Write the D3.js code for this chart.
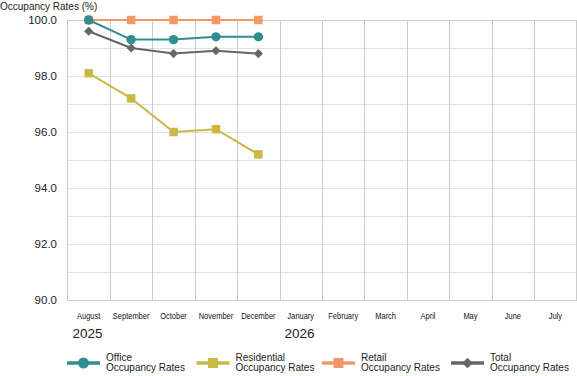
<!DOCTYPE html>
<html>
<head>
<meta charset="utf-8">
<script src="https://cdn.jsdelivr.net/npm/d3@7"></script>
<style>
  body { margin: 0; background: #fff; }
  svg { font-family: "Liberation Sans", Arial, sans-serif; }
</style>
</head>
<body>
<script>
let months = ["August", "September", "October", "November", "December", "January",
  "February", "March", "April", "May", "June", "July"]
let years = [{label: "2025", month: "August"}, {label: "2026", month: "January"}]
let yTicks = [90, 92, 94, 96, 98, 100]

let office = [100.0, 99.3, 99.3, 99.4, 99.4]
let residential = [98.1, 97.2, 96.0, 96.1, 95.2]
let retail = [100.0, 100.0, 100.0, 100.0, 100.0]
let total = [99.6, 99.0, 98.8, 98.9, 98.8]

let series = [
  {name: ["Office", "Occupancy Rates"], values: office, color: "#318d8f", shape: "circle"},
  {name: ["Residential", "Occupancy Rates"], values: residential, color: "#c9b944", shape: "square"},
  {name: ["Retail", "Occupancy Rates"], values: retail, color: "#f39766", shape: "square"},
  {name: ["Total", "Occupancy Rates"], values: total, color: "#666666", shape: "diamond"}
]

let width = 577, height = 376
let plotL = 67.5, plotR = 576.5, plotT = 20, plotB = 300

let x = d3.scaleBand().domain(months).range([plotL, plotR])
let y = d3.scaleLinear().domain([90, 100]).range([plotB, plotT])

let svg = d3.select("body").append("svg").attr("width", width).attr("height", height)

// dotted minor gridlines
svg.append("g").selectAll("line")
  .data(d3.range(91, 100, 1))
  .enter().append("line")
  .attr("x1", plotL).attr("x2", plotR)
  .attr("y1", d => Math.round(y(d)) + 0.5).attr("y2", d => Math.round(y(d)) + 0.5)
  .attr("stroke", "#c4c4c4").attr("stroke-dasharray", "1,1")

// vertical gridlines
svg.append("g").selectAll("line")
  .data(months.slice(1))
  .enter().append("line")
  .attr("x1", d => Math.round(x(d)) + 0.5).attr("x2", d => Math.round(x(d)) + 0.5)
  .attr("y1", plotT).attr("y2", plotB)
  .attr("stroke", "#cccccc").attr("stroke-width", 1)

// frame
svg.append("rect")
  .attr("x", plotL).attr("y", plotT + 0.5)
  .attr("width", plotR - plotL).attr("height", plotB - plotT)
  .attr("fill", "none").attr("stroke", "#cccccc")

// y axis labels
svg.append("g").selectAll("text")
  .data(yTicks)
  .enter().append("text")
  .attr("x", 57).attr("y", d => y(d))
  .attr("dy", "0.35em").attr("text-anchor", "end")
  .attr("font-size", 11.5).attr("fill", "#222")
  .text(d => d.toFixed(1))

svg.append("text")
  .attr("x", 0).attr("y", 10)
  .attr("font-size", 10).attr("fill", "#222")
  .text("Occupancy Rates (%)")

// x labels
svg.append("g").selectAll("text")
  .data(months)
  .enter().append("text")
  .attr("transform", d => "translate(" + (x(d) + x.bandwidth() / 2) + ",319) scale(0.88,1)")
  .attr("text-anchor", "middle")
  .attr("font-size", 8.5).attr("fill", "#111")
  .text(d => d)

svg.append("g").selectAll("text")
  .data(years)
  .enter().append("text")
  .attr("x", d => x(d.month) + 5).attr("y", 338)
  .attr("font-size", 13.5).attr("fill", "#222")
  .text(d => d.label)

function marker(g, shape, color, s) {
  if (shape == "circle") {
    g.append("circle").attr("r", s * 0.55).attr("fill", color)
  } else if (shape == "square") {
    g.append("rect").attr("x", -s / 2).attr("y", -s / 2).attr("width", s).attr("height", s).attr("fill", color)
  } else {
    g.append("rect").attr("x", -s * 0.38).attr("y", -s * 0.38).attr("width", s * 0.76).attr("height", s * 0.76)
      .attr("transform", "rotate(45)").attr("fill", color)
  }
}

let line = d3.line()
  .x((d, i) => x(months[i]) + x.bandwidth() / 2)
  .y(d => y(d))

// draw order: retail, total, residential, office (office on top)
let order = [series[2], series[3], series[1], series[0]]
order.forEach(s => {
  let g = svg.append("g")
  g.append("path").datum(s.values)
    .attr("d", line).attr("fill", "none")
    .attr("stroke", s.color).attr("stroke-width", 2)
  g.selectAll("g")
    .data(s.values)
    .enter().append("g")
    .attr("transform", (d, i) => "translate(" + (x(months[i]) + x.bandwidth() / 2) + "," + y(d) + ")")
    .each(function() { marker(d3.select(this), s.shape, s.color, 8.5) })
})

// legend
let legendX = [67, 196.5, 322, 451]
let legend = svg.append("g").selectAll("g")
  .data(series)
  .enter().append("g")
  .attr("transform", (d, i) => "translate(" + legendX[i] + ",363)")

legend.append("line")
  .attr("x1", 0).attr("x2", 33)
  .attr("stroke", d => d.color).attr("stroke-width", 3.5)
legend.each(function(d) {
  let g = d3.select(this).append("g").attr("transform", "translate(16.5,0)")
  marker(g, d.shape, d.color, 10)
})
legend.append("text")
  .attr("x", 39).attr("y", -2.5)
  .attr("font-size", 10).attr("fill", "#222")
  .selectAll("tspan")
  .data(d => d.name)
  .enter().append("tspan")
  .attr("x", 39).attr("dy", (d, i) => i == 0 ? 0 : 10)
  .text(d => d)
</script>
</body>
</html>
